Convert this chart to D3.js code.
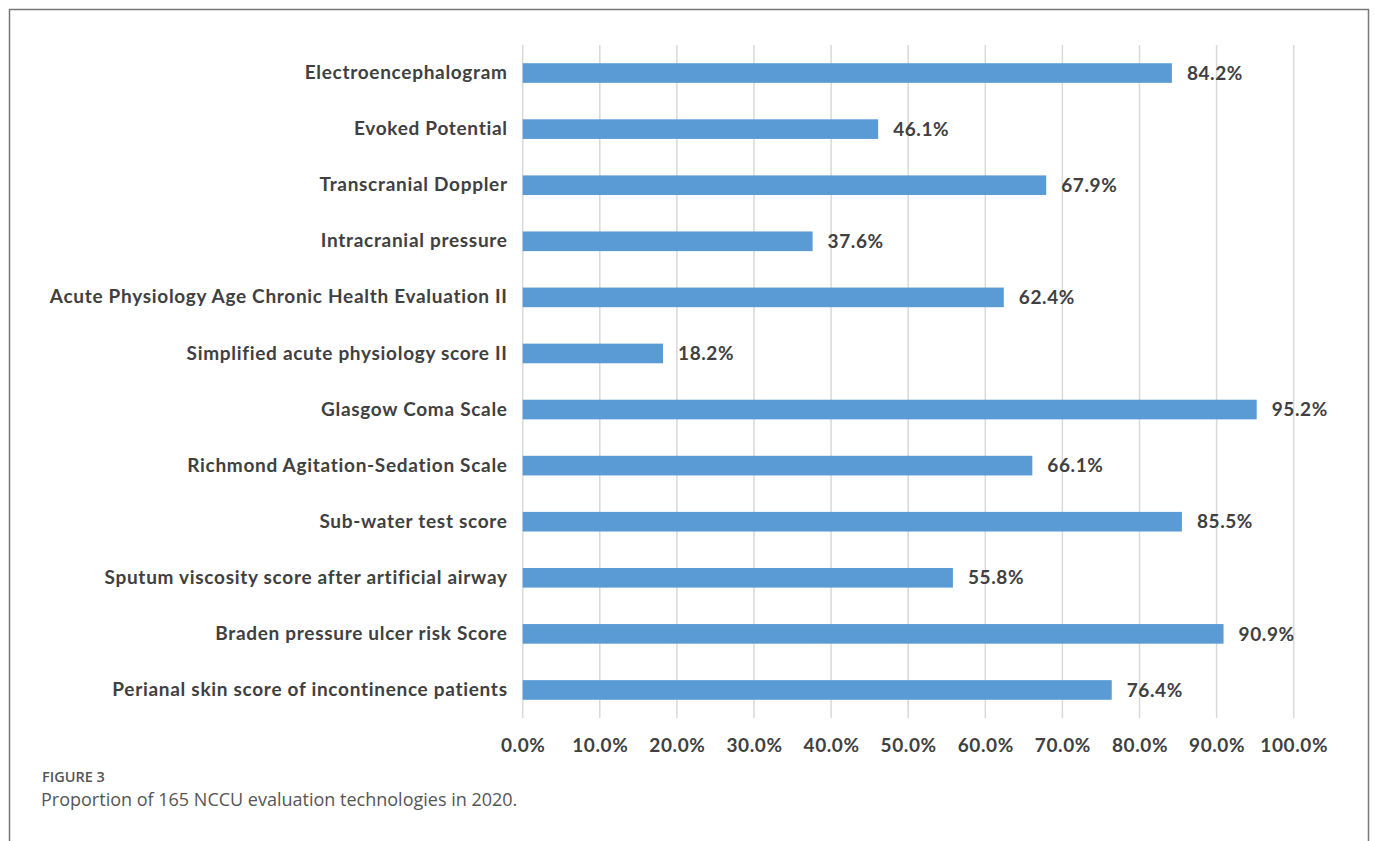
<!DOCTYPE html>
<html>
<head>
<meta charset="utf-8">
<script src="https://cdn.jsdelivr.net/npm/d3@7"></script>
<style>
  body { margin: 0; background: #fff; }
  svg { display: block; }
</style>
</head>
<body>
<div id="chart"></div>
<script>
// chart data
var categories = [
  "Electroencephalogram",
  "Evoked Potential",
  "Transcranial Doppler",
  "Intracranial pressure",
  "Acute Physiology Age Chronic Health Evaluation II",
  "Simplified acute physiology score II",
  "Glasgow Coma Scale",
  "Richmond Agitation-Sedation Scale",
  "Sub-water test score",
  "Sputum viscosity score after artificial airway",
  "Braden pressure ulcer risk Score",
  "Perianal skin score of incontinence patients"
];
var values = [84.2, 46.1, 67.9, 37.6, 62.4, 18.2, 95.2, 66.1, 85.5, 55.8, 90.9, 76.4];
var ticks = [0, 10, 20, 30, 40, 50, 60, 70, 80, 90, 100];
var captionLabel = "FIGURE 3";
var captionText = "Proportion of 165 NCCU evaluation technologies in 2020.";

var W = 1375, H = 841;
var svg = d3.select("#chart").append("svg")
    .attr("width", W)
    .attr("height", H);

// outer frame (bottom edge runs off the page)
svg.append("path")
    .attr("d", "M9.5," + H + " L9.5,9.5 L1368.5,9.5 L1368.5," + H)
    .attr("fill", "none")
    .attr("stroke", "#777")
    .attr("stroke-width", 1.5);

var x = d3.scaleLinear()
    .domain([0, 100])
    .range([522.7, 1293.7]);

var y = d3.scaleBand()
    .domain(categories)
    .range([45, 718])
    .paddingInner(0.65)
    .paddingOuter(0.325);

var font = "Lato, 'Open Sans', sans-serif";
var textColor = "#404040";

// gridlines
svg.append("g")
    .selectAll("line")
    .data(ticks)
    .enter()
    .append("line")
    .attr("x1", function(d) { return x(d); })
    .attr("x2", function(d) { return x(d); })
    .attr("y1", 45)
    .attr("y2", 718)
    .attr("stroke", "#d9d9d9")
    .attr("stroke-width", 1.5);

// bars
svg.append("g")
    .selectAll("rect")
    .data(values)
    .enter()
    .append("rect")
    .attr("x", x(0))
    .attr("y", function(d, i) { return y(categories[i]); })
    .attr("width", function(d) { return x(d) - x(0); })
    .attr("height", y.bandwidth())
    .attr("fill", "#5b9bd5");

// value labels
svg.append("g")
    .selectAll("text")
    .data(values)
    .enter()
    .append("text")
    .attr("x", function(d) { return x(d) + 15; })
    .attr("y", function(d, i) { return y(categories[i]) + y.bandwidth() / 2; })
    .attr("dy", "0.35em")
    .attr("font-family", font)
    .attr("font-weight", "bold")
    .attr("font-size", 19)
    .attr("letter-spacing", 0.6)
    .attr("fill", textColor)
    .text(function(d) { return d.toFixed(1) + "%"; });

// category axis
var yAxis = svg.append("g")
    .attr("transform", "translate(" + (x(0) - 15) + ",0)")
    .call(d3.axisLeft(y).tickSize(0).tickPadding(0));
yAxis.select(".domain").remove();
yAxis.selectAll("text")
    .attr("font-family", font)
    .attr("font-weight", "bold")
    .attr("font-size", 19)
    .attr("letter-spacing", 0.7)
    .attr("fill", textColor);

// percent axis
var xAxis = svg.append("g")
    .attr("transform", "translate(0,718)")
    .call(d3.axisBottom(x).tickValues(ticks).tickSize(0).tickPadding(21)
        .tickFormat(function(d) { return d.toFixed(1) + "%"; }));
xAxis.select(".domain").remove();
xAxis.selectAll("text")
    .attr("font-family", font)
    .attr("font-weight", "bold")
    .attr("font-size", 19)
    .attr("letter-spacing", 0.6)
    .attr("fill", textColor);

// caption
svg.append("text")
    .attr("x", 42)
    .attr("y", 782)
    .attr("font-family", "'Open Sans', sans-serif")
    .attr("font-weight", 600)
    .attr("font-size", 14.5)
    .attr("fill", "#555")
    .text(captionLabel);

svg.append("text")
    .attr("x", 41)
    .attr("y", 806)
    .attr("font-family", "'Open Sans', sans-serif")
    .attr("font-size", 18)
    .attr("fill", "#555")
    .text(captionText);
</script>
</body>
</html>
